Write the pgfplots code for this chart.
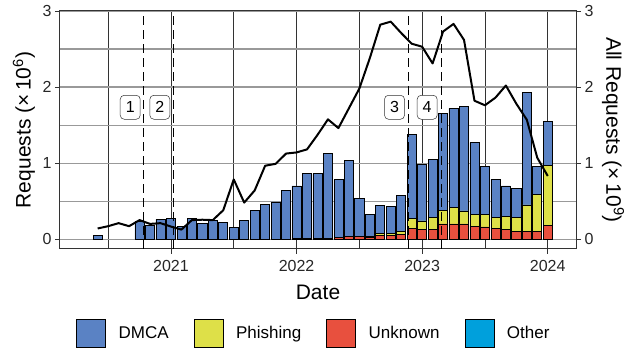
\documentclass[border=0pt]{standalone}
\usepackage{pgfplots}
\usepackage{pgfplotstable}
\pgfplotsset{compat=1.18}
\usepackage{fontspec}
\setmainfont{Liberation Sans}

\definecolor{dmca}{RGB}{90,130,196}
\definecolor{phish}{RGB}{222,224,72}
\definecolor{unk}{RGB}{232,80,62}
\definecolor{oth}{RGB}{0,160,220}

% monthly requests (x = months since Jan 2020), stacked parts in millions
\pgfplotstableread{
x  other unk   phish dmca
4  0     0     0     0
5  0     0     0     0.05
6  0     0     0     0
7  0     0     0     0
8  0     0     0     0
9  0     0     0     0.23
10 0     0     0     0.18
11 0     0     0     0.26
12 0     0     0     0.27
13 0     0     0     0.17
14 0     0     0     0.27
15 0     0     0     0.21
16 0     0     0     0.245
17 0     0     0     0.215
18 0     0     0     0.155
19 0     0     0     0.25
20 0     0     0     0.38
21 0     0     0     0.46
22 0     0     0     0.49
23 0     0     0     0.64
24 0     0.01  0     0.69
25 0     0.01  0     0.85
26 0     0.01  0     0.85
27 0     0.01  0     1.12
28 0     0.02  0.005 0.755
29 0     0.03  0.01  0.99
30 0     0.03  0.005 0.495
31 0     0.02  0.01  0.29
32 0     0.05  0.03  0.36
33 0     0.05  0.03  0.35
34 0     0.06  0.04  0.47
35 0     0.14  0.13  1.11
36 0     0.13  0.11  0.74
37 0     0.13  0.155 0.765
38 0     0.20  0.18  1.27
39 0     0.20  0.22  1.30
40 0     0.20  0.17  1.38
41 0     0.17  0.15  0.95
42 0     0.16  0.16  0.64
43 0     0.14  0.15  0.50
44 0     0.13  0.17  0.40
45 0     0.105 0.185 0.38
46 0     0.10  0.35  1.48
47 0     0.10  0.49  0.37
48 0     0.175 0.795 0.58
}\bars

% all requests per month, in billions
\pgfplotstableread{
x  all
5  0.14
6  0.17
7  0.21
8  0.17
9  0.25
10 0.20
11 0.21
12 0.165
13 0.125
14 0.25
15 0.255
16 0.25
17 0.38
18 0.785
19 0.48
20 0.64
21 0.965
22 0.99
23 1.125
24 1.14
25 1.18
26 1.37
27 1.575
28 1.46
29 1.72
30 1.98
31 2.38
32 2.82
33 2.86
34 2.71
35 2.57
36 2.53
37 2.31
38 2.73
39 2.83
40 2.62
41 1.82
42 1.76
43 1.86
44 2.02
45 1.78
46 1.57
47 1.07
48 0.83
}\allreq

\pgfplotsset{
  common/.style={
    at={(60pt,101pt)}, anchor=south west,
    scale only axis, width=516pt, height=238pt,
    xmin=1.4, xmax=50.7, ymin=-0.13, ymax=3,
    ytick={0,1,2,3}, yticklabels={0,1,2,3},
    major tick length=5pt, minor tick length=0pt,
    tick align=outside,
    tick style={black!80, line width=0.8pt},
    ticklabel style={font=\fontsize{16}{16}\selectfont, text=black!85},
    label style={font=\fontsize{21}{21}\selectfont, text=black},
  },
}

\begin{document}
\begin{tikzpicture}
\useasboundingbox (0,0) rectangle (627pt,350pt);

\begin{axis}[
  common,
  ybar stacked, bar width=0.87,
  xtick={12,24,36,48}, xticklabels={2021,2022,2023,2024},
  xticklabel style={yshift=-3pt},
  minor xtick={6,18,30,42},
  minor ytick={0.5,1.5,2.5},
  xmajorgrids, xminorgrids, ymajorgrids, yminorgrids,
  x grid style={black!80, line width=0.6pt},
  y grid style={black!40, line width=1.1pt},
  xtick pos=left, ytick pos=left,
  axis line style={black!80, line width=1pt},
  xlabel={Date},
  ylabel={Requests (×\,10\textsuperscript{6})},
  xlabel style={at={(axis description cs:0.5,-0.183)}, anchor=center},
  ylabel style={at={(axis description cs:-0.07,0.5)}, anchor=center},
  every axis plot/.append style={draw=black, line width=0.7pt},
]
\addplot[fill=oth]   table[x=x, y=other] {\bars};
\addplot[fill=unk]   table[x=x, y=unk]   {\bars};
\addplot[fill=phish] table[x=x, y=phish] {\bars};
\addplot[fill=dmca]  table[x=x, y=dmca]  {\bars};
\end{axis}

\begin{axis}[
  common,
  hide x axis,
  axis y line*=right,
  axis line style={draw=none},
  ylabel={All Requests (×\,10\textsuperscript{9})},
  ylabel style={at={(axis description cs:1.072,0.5)}, anchor=center, rotate=180},
  legend columns=4,
  legend style={at={(axis description cs:0.492,-0.353)}, anchor=center,
    draw=none, fill=none, font=\fontsize{17}{17}\selectfont,
    /tikz/every even column/.append style={column sep=23pt}},
  legend image code/.code={%
    \draw[#1, draw=black, line width=0.8pt] (0pt,-14pt) rectangle (29pt,14pt);
    \path[draw=none, fill=none] (0pt,0pt) -- (40pt,0pt);},
]
% events
\addplot[forget plot, black, line width=1pt, dash pattern=on 9pt off 5pt] coordinates {(9.36,-0.13) (9.36,3)};
\addplot[forget plot, black, line width=1pt, dash pattern=on 9pt off 5pt] coordinates {(12.22,-0.13) (12.22,3)};
\addplot[forget plot, black, line width=1pt, dash pattern=on 9pt off 5pt] coordinates {(34.68,-0.13) (34.68,3)};
\addplot[forget plot, black, line width=1pt, dash pattern=on 9pt off 5pt] coordinates {(37.85,-0.13) (37.85,3)};
% total requests
\addplot[forget plot, black, line width=2pt, line join=round] table[x=x, y=all] {\allreq};

\begin{scope}[every node/.style={draw=black!80, fill=white, rounded corners=4pt, line width=0.5pt,
    minimum width=20pt, minimum height=24pt, inner sep=0pt, font=\fontsize{16}{16}\selectfont}]
\node at (axis cs:8.11,1.734) {1};
\node at (axis cs:10.94,1.734) {2};
\node at (axis cs:33.36,1.734) {3};
\node at (axis cs:36.48,1.734) {4};
\end{scope}

\addlegendimage{fill=dmca}
\addlegendimage{fill=phish}
\addlegendimage{fill=unk}
\addlegendimage{fill=oth}
\legend{DMCA, Phishing, Unknown, Other}
\end{axis}
\end{tikzpicture}
\end{document}
